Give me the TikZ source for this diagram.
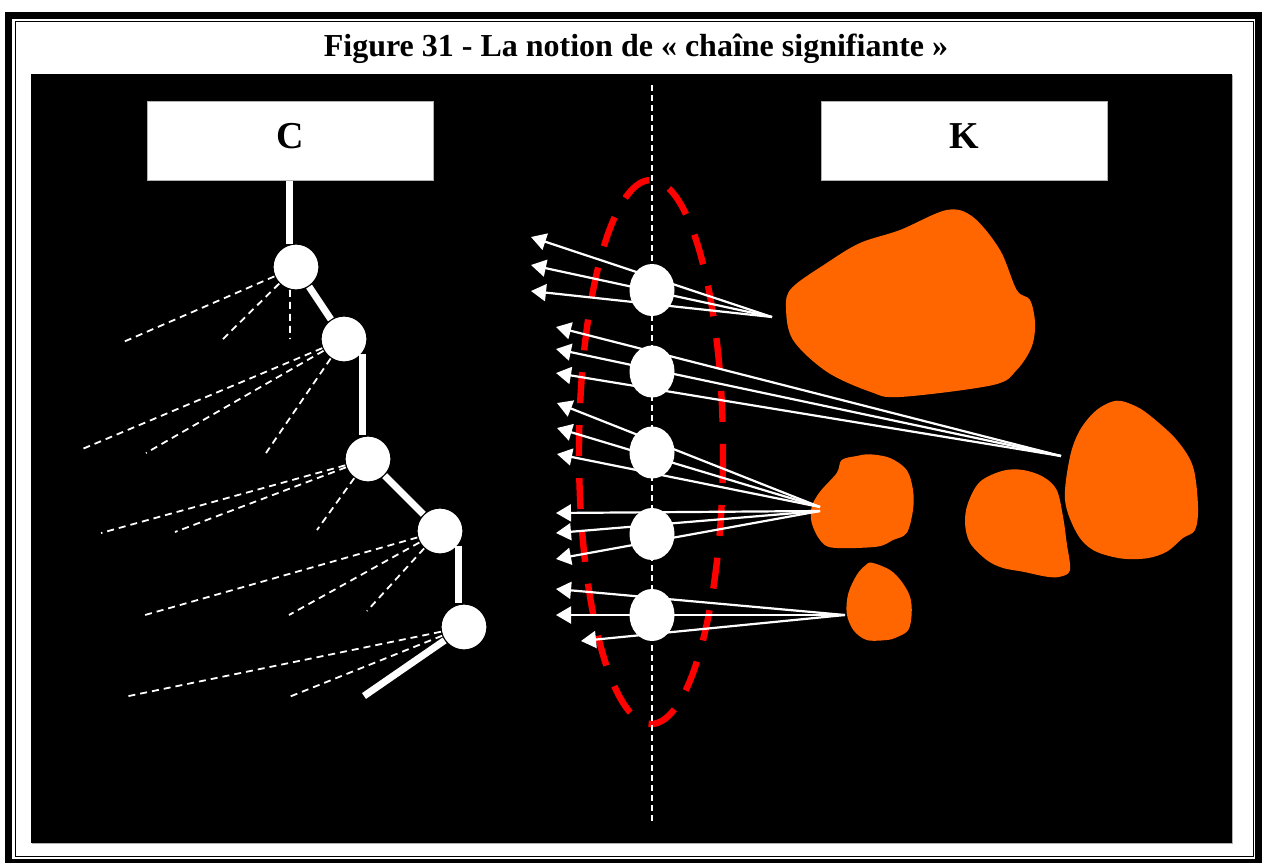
\documentclass[tikz,border=0pt]{standalone}
\usepackage{fontspec}
\setmainfont{Liberation Serif}
\usetikzlibrary{arrows.meta,shapes.geometric}
\definecolor{clay}{HTML}{FF6600}
\tikzset{
  box/.style={draw=gray!60, line width=0.5pt, fill=white, minimum width=143pt, minimum height=39.5pt,
    inner sep=0pt, text height=12.6pt, text depth=5.1pt, font=\bfseries\fontsize{19}{22}\selectfont},
  knot/.style={circle, draw=black, line width=0.6pt, fill=white, minimum size=23pt, inner sep=0pt},
  sign/.style={ellipse, fill=white, minimum width=22.5pt, minimum height=26pt, inner sep=0pt},
  link/.style={draw=white, line width=3.5pt},
  twig/.style={draw=white, line width=0.9pt, dash pattern=on 3.5pt off 2.5pt},
  ray/.style={draw=white, line width=1.1pt, -{Triangle[length=7.5pt,width=8.5pt]}},
  blob/.style={fill=clay},
}
\begin{document}
\begin{tikzpicture}[x=0.5pt,y=-0.5pt]
\useasboundingbox (0,0) rectangle (1262,862);

% cadre
\draw[line width=3.5pt] (8.3,15) rectangle (1258.5,862);
\draw[line width=0.6pt] (15.5,21.5) rectangle (1253.5,856.5);
\node[anchor=base, inner sep=0pt, font=\bfseries\fontsize{16}{19}\selectfont] (title) at (636,56) {Figure 31 - La notion de « chaîne signifiante »};
\fill[gray!60] (32,75) rectangle (1233,844);
\fill[black] (31,74) rectangle (1232,843);

\node[box] (boxC) at (290,140.5) {C};
\node[box] (boxK) at (964,140.5) {K};

% chaine signifiante
\draw[red, line width=3.2pt, dash pattern=on 15.5pt off 11pt] (651,452) ellipse [x radius=72, y radius=272];
\coordinate (axtop) at (652,85);
\coordinate (axbot) at (652,823);
\draw[white, line width=0.8pt, dash pattern=on 3pt off 2pt] (axtop) -- (axbot);

% objets
\fill[blob] plot[smooth cycle, tension=0.55] coordinates {(946.7,210) (973,217) (1000,250) (1016.7,290) (1030,300) (1035,323) (1031.7,346.7) (1016.7,370) (993,385) (900,397) (870,391.7) (826.7,371.7) (793,340) (786,308) (791.7,288) (826.7,263) (860,243) (900,230)};
\fill[blob] plot[smooth cycle, tension=0.55] coordinates {(870,454.3) (890,458) (906.7,470) (913,490) (913,510) (906.7,533) (893,540) (876.7,546.7) (833,547.7) (820,540) (811.7,523) (811.7,506.7) (820,491.7) (836.7,473) (841.7,460) (856.7,456)};
\fill[blob] plot[smooth cycle, tension=0.55] coordinates {(1003,470.7) (1023,470) (1043,476.7) (1056.7,490) (1063,516.7) (1066.7,543) (1070,570) (1060,576.7) (1046.7,576.7) (1023,571.7) (1003,568) (986.7,560) (970,543) (965,523) (968,503) (980,481.7)};
\fill[blob] plot[smooth cycle, tension=0.55] coordinates {(1116.7,400.7) (1136.7,406.7) (1153,418) (1176.7,440) (1193,466.7) (1198,506.7) (1195,530) (1183,538) (1166.7,551.7) (1146.7,558.3) (1120,558.3) (1093,550) (1076.7,533) (1065,500) (1070,456.7) (1080,430) (1096.7,410)};
\fill[blob] plot[smooth cycle, tension=0.55] coordinates {(871.7,562.7) (890,570) (901.7,581.7) (910,596.7) (911.7,613.3) (908.3,630) (896.7,637.3) (886.7,640) (866.7,640) (853.3,630) (846.7,613.3) (848.3,593.3) (856.7,575) (865,565.7)};

% rayons
\coordinate (src1) at (772,317);
\coordinate (src2) at (1061,456);
\coordinate (src3) at (820,507);
\coordinate (src4) at (820,511);
\coordinate (src5) at (845,615);
\coordinate (a11) at (531,237);
\coordinate (a12) at (531,265);
\coordinate (a13) at (531,291);
\coordinate (a21) at (556,327);
\coordinate (a22) at (556,349);
\coordinate (a23) at (556,373);
\coordinate (a31) at (557,403);
\coordinate (a32) at (557,428);
\coordinate (a33) at (557,454);
\coordinate (a41) at (556,513);
\coordinate (a42) at (556,533);
\coordinate (a43) at (556,559);
\coordinate (a51) at (556,589);
\coordinate (a52) at (556,615);
\coordinate (a53) at (581,641);
\draw[ray] (src1) -- (a11);
\draw[ray] (src1) -- (a12);
\draw[ray] (src1) -- (a13);
\draw[ray] (src2) -- (a21);
\draw[ray] (src2) -- (a22);
\draw[ray] (src2) -- (a23);
\draw[ray] (src3) -- (a31);
\draw[ray] (src3) -- (a32);
\draw[ray] (src3) -- (a33);
\draw[ray] (src4) -- (a41);
\draw[ray] (src4) -- (a42);
\draw[ray] (src4) -- (a43);
\draw[ray] (src5) -- (a51);
\draw[ray] (src5) -- (a52);
\draw[ray] (src5) -- (a53);

\node[sign] (m1) at (652,290) {};
\node[sign] (m2) at (652,371.5) {};
\node[sign] (m3) at (652,452.5) {};
\node[sign] (m4) at (652,534) {};
\node[sign] (m5) at (652,615) {};

% arbre C
\node[knot] (c1) at (296,267) {};
\node[knot] (c2) at (344,339) {};
\node[knot] (c3) at (368,459) {};
\node[knot] (c4) at (440,531) {};
\node[knot] (c5) at (464,627) {};
\coordinate (tail) at (364,696);
\draw[link] (c1.105) -- (c1.105 |- boxC.south);
\draw[link] (c1) -- (c2);
\draw[link] (c2.-38) -- (c2.-38 |- c3.north);
\draw[link] (c3) -- (c4);
\draw[link] (c4.-38) -- (c4.-38 |- c5.north);
\draw[link] (c5) -- (tail);

\coordinate (d11) at (121,343);
\coordinate (d12) at (221,341);
\coordinate (d13) at (290,339);
\coordinate (d21) at (80,450);
\coordinate (d22) at (146,453);
\coordinate (d23) at (266,453);
\coordinate (d31) at (101,533);
\coordinate (d32) at (175,532);
\coordinate (d33) at (317,530);
\coordinate (d41) at (145,615);
\coordinate (d42) at (289,615);
\coordinate (d43) at (367,611);
\coordinate (d51) at (124,697);
\coordinate (d52) at (289,697);
\draw[twig] (c1) -- (d11);
\draw[twig] (c1) -- (d12);
\draw[twig] (c1.-105) -- (d13);
\draw[twig] (c2) -- (d21);
\draw[twig] (c2) -- (d22);
\draw[twig] (c2) -- (d23);
\draw[twig] (c3) -- (d31);
\draw[twig] (c3) -- (d32);
\draw[twig] (c3) -- (d33);
\draw[twig] (c4) -- (d41);
\draw[twig] (c4) -- (d42);
\draw[twig] (c4) -- (d43);
\draw[twig] (c5) -- (d51);
\draw[twig] (c5) -- (d52);
\end{tikzpicture}
\end{document}
